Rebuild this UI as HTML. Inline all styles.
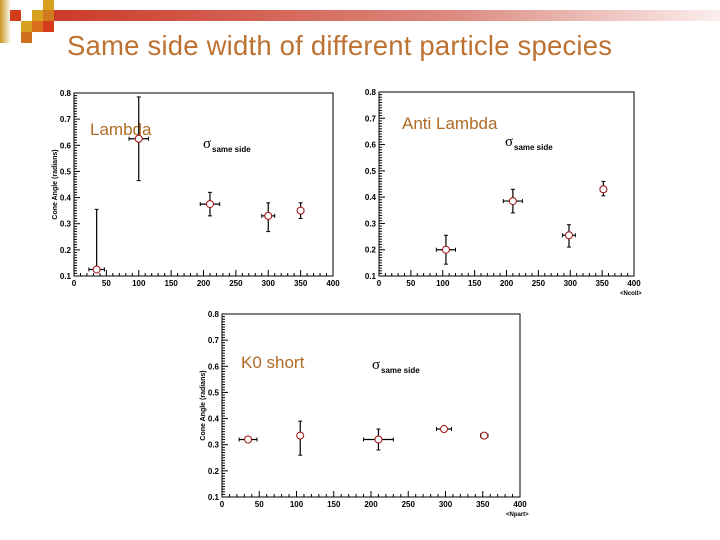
<!DOCTYPE html>
<html><head><meta charset="utf-8"><style>
body{margin:0;width:720px;height:540px;background:#fff;overflow:hidden;font-family:"Liberation Sans",sans-serif}
svg{position:absolute;left:0;top:0}
</style></head><body>
<svg id="s" width="720" height="540">
<defs>
<linearGradient id="bar" x1="0" x2="1"><stop offset="0" stop-color="#cc3a28"/><stop offset="0.6" stop-color="#dc8a80"/><stop offset="1" stop-color="#fbeeee"/></linearGradient>
<linearGradient id="lg" x1="0" x2="1"><stop offset="0" stop-color="#c8961e"/><stop offset="1" stop-color="#fff"/></linearGradient>
</defs>
<g>
<rect x="0" y="0" width="11" height="43" fill="url(#lg)"/>
<rect x="54" y="10" width="666" height="11" fill="url(#bar)"/>
<rect x="10" y="10" width="11" height="11" fill="#d43c1c"/>
<rect x="43" y="0" width="11" height="11" fill="#d8a020"/>
<rect x="32" y="10" width="11" height="11" fill="#d8a020"/>
<rect x="43" y="10" width="11" height="11" fill="#d07a1e"/>
<rect x="21" y="21" width="11" height="11" fill="#d8a020"/>
<rect x="32" y="21" width="11" height="11" fill="#d86e1c"/>
<rect x="43" y="21" width="11" height="11" fill="#d43c1c"/>
<rect x="21" y="32" width="11" height="11" fill="#d0701c"/>
</g>
<text x="67" y="55" font-size="27.5" fill="#bd7232" textLength="545">Same side width of different particle species</text>
</svg>
<script>
const lambdaX=[35,100,210,300,350], lambdaY=[0.125,0.625,0.375,0.33,0.35], lambdaLo=[0.125,0.465,0.33,0.27,0.32], lambdaHi=[0.355,0.785,0.42,0.38,0.38], lambdaXe=[12,15,15,10,5];
const antiX=[105,210,298,352], antiY=[0.2,0.385,0.255,0.43], antiLo=[0.145,0.34,0.21,0.405], antiHi=[0.255,0.43,0.295,0.46], antiXe=[15,15,10,5];
const k0X=[35,105,210,298,352], k0Y=[0.32,0.335,0.32,0.36,0.335], k0Lo=[0.32,0.26,0.28,0.36,0.335], k0Hi=[0.32,0.39,0.36,0.36,0.335], k0Xe=[12,0,20,10,5];
const xTicks=[0,50,100,150,200,250,300,350,400], yTicks=[0.1,0.2,0.3,0.4,0.5,0.6,0.7,0.8];
const S=document.getElementById('s'),NS='http://www.w3.org/2000/svg';
function mk(p,t,a,txt){const e=document.createElementNS(NS,t);for(const k in a)e.setAttribute(k,a[k]);if(txt!==undefined)e.textContent=txt;p.appendChild(e);return e;}
function panel(name,L,R,T,B,xs,ys,lo,hi,xe,label,lx,ly,sx,sy,ytitle,xtitle){
 const g=mk(S,'g',{});
 
 
 const X=v=>L+(R-L)*v/400, Y=v=>B-(B-T)*(v-0.1)/0.7;
 const f=mk(g,'rect',{x:L,y:T,width:R-L,height:B-T,fill:'#fff',stroke:'#000','stroke-width':1});
 
 
 for(let v=0;v<=400;v+=10){const big=v%50==0;mk(g,'line',{x1:X(v),x2:X(v),y1:B,y2:B-(big?6:3),stroke:'#000'});}
 for(let i=0;i<=70;i++){const v=0.1+i*0.01,big=i%10==0;mk(g,'line',{x1:L,x2:L+(big?6:3),y1:Y(v),y2:Y(v),stroke:'#000'});}
 xTicks.forEach(v=>{const t=mk(g,'text',{x:X(v),y:B+10,'font-size':8,'font-weight':'bold','text-anchor':'middle'},v);
  
  });
 yTicks.forEach(v=>{const t=mk(g,'text',{x:L-3,y:Y(v)+3,'font-size':8,'font-weight':'bold','text-anchor':'end'},v.toFixed(1));
  
  });
 if(ytitle){const t=mk(g,'text',{x:0,y:0,'font-size':7,'font-weight':'bold','text-anchor':'middle',transform:`translate(${L-17},${(T+B)/2}) rotate(-90)`},'Cone Angle (radians)');
  
  }
 if(xtitle){const t=mk(g,'text',{x:R-14,y:B+19,'font-size':6,'font-weight':'bold'},xtitle);
  
  }
 const lb=mk(g,'text',{x:lx,y:ly,'font-size':17,fill:'#b06a26'},label);
 
 
 const sg=mk(g,'text',{x:sx,y:sy,'font-size':15,'font-family':'Liberation Serif'},'σ');
 
 
 mk(g,'text',{x:sx+9,y:sy+4,'font-size':8,'font-weight':'bold'},'same side');
 xs.forEach((x,i)=>{const pg=mk(g,'g',{});
  
  
  const cx=X(x),cy=Y(ys[i]);
  if(xe[i]){mk(pg,'line',{x1:X(x-xe[i]),x2:X(x+xe[i]),y1:cy,y2:cy,stroke:'#000','stroke-width':1.2});
   mk(pg,'line',{x1:X(x-xe[i]),x2:X(x-xe[i]),y1:cy-2,y2:cy+2,stroke:'#000'});
   mk(pg,'line',{x1:X(x+xe[i]),x2:X(x+xe[i]),y1:cy-2,y2:cy+2,stroke:'#000'});}
  if(hi[i]!==lo[i]){mk(pg,'line',{x1:cx,x2:cx,y1:Y(hi[i]),y2:Y(lo[i]),stroke:'#000','stroke-width':1.2});
   mk(pg,'line',{x1:cx-2,x2:cx+2,y1:Y(hi[i]),y2:Y(hi[i]),stroke:'#000'});
   mk(pg,'line',{x1:cx-2,x2:cx+2,y1:Y(lo[i]),y2:Y(lo[i]),stroke:'#000'});}
  mk(pg,'circle',{cx:cx,cy:cy,r:3.5,fill:'#fff',stroke:'#a01010','stroke-width':1});});
}
panel('lambda-chart',74,333,93,276,lambdaX,lambdaY,lambdaLo,lambdaHi,lambdaXe,'Lambda',90,135,203,148,true,null);
panel('anti-lambda-chart',379,634,92,276,antiX,antiY,antiLo,antiHi,antiXe,'Anti Lambda',402,129,505,146,false,'<Ncoll>');
panel('k0-short-chart',222,520,314,497,k0X,k0Y,k0Lo,k0Hi,k0Xe,'K0 short',241,368,372,369,true,'<Npart>');
</script>
</body></html>
